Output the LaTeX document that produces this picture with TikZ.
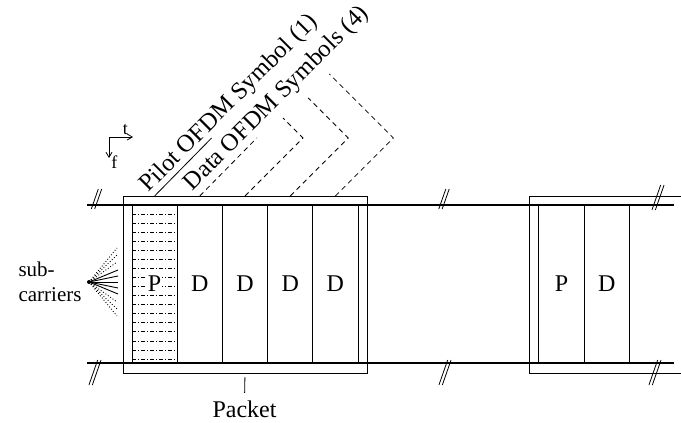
\documentclass[tikz,border=0pt]{standalone}
\usepackage{fontspec}
\setmainfont{Liberation Serif}
\usetikzlibrary{arrows.meta,positioning,calc}

\begin{document}
\begin{tikzpicture}[
  x=1pt,y=-1pt,line width=1pt,
  slot/.style={draw,minimum width=45.2pt,minimum height=158pt,inner sep=0pt,
               outer sep=0pt,font=\fontsize{24}{24}\selectfont},
  frame/.style={draw,minimum height=177pt,inner sep=0pt,outer sep=0pt},
  rail/.style={line width=1.1pt},
  leader/.style={line width=0.8pt,dash pattern=on 5pt off 4pt},
  hatch/.style={line width=0.6pt,dash pattern=on 4pt off 2pt on 1pt off 2pt},
  brk/.style={line width=0.8pt},
  axis/.style={-{Straight Barb[length=5pt,width=6pt]},line width=0.8pt},
  lbl/.style={font=\fontsize{24}{27}\selectfont,inner sep=0pt},
  slanted/.style={font=\fontsize{24.5}{27}\selectfont,inner sep=0pt,
                  rotate=45,anchor=base west},
  small/.style={font=\fontsize{18}{18}\selectfont,inner sep=1pt}
]
\useasboundingbox (0,0) rectangle (681,423);

% rails of the frequency band
\coordinate (railNW) at (87,205);
\coordinate (railNE) at (674,205);
\coordinate (railSW) at (87,363);
\coordinate (railSE) at (674,363);
\draw[rail] (railNW) -- (railNE);
\draw[rail] (railSW) -- (railSE);

% first packet
\node[frame,minimum width=244pt] (pkt1) at (245,284.5) {};
\node[slot] (p1) at (154.6,284) {};
\node[slot,right=0pt of p1] (d1) {D};
\node[slot,right=0pt of d1] (d2) {D};
\node[slot,right=0pt of d2] (d3) {D};
\node[slot,right=0pt of d3] (d4) {D};
\foreach \k [evaluate=\k as \y using 214+9.06*\k] in {0,...,16}
  \draw[hatch] (p1.west |- 0,\y) -- (p1.east |- 0,\y);
\node[lbl,fill=white,inner sep=0.5pt] at (p1) {P};

% second packet, cut by the right margin
\coordinate (pkt2NE) at (681,196);
\coordinate (pkt2SE) at (681,373);
\draw (pkt2NE) -- (529,196) -- (529,373) -- (pkt2SE);
\node[slot] (p2) at (561.5,284) {P};
\node[slot,right=0pt of p2] (d5) {D};

% breaks
\foreach \x/\y/\h in {96.5/199/10,444/199/10,658/197.5/12.5,
                      95/372.5/12.5,445/372.5/12.5,655/372.5/12.5}
  \foreach \dx in {-1.7,1.7}
    \draw[brk] (\x+\dx-0.35*\h,\y+\h) -- (\x+\dx+0.35*\h,\y-\h);

% subcarriers
\coordinate (fan) at (89,282);
\foreach \y in {270,276,282,288,294}
  \draw[line width=0.9pt] (fan) -- (118,\y);
\foreach \y in {248,255,262,302,309,316}
  \draw[line width=0.9pt,dotted] (fan) -- (117,\y);
\fill (fan) circle (2);
\node[lbl,font=\fontsize{21}{25}\selectfont,align=left,left=7pt of fan] (subc) {sub-\\carriers};

% packet label
\node[lbl,anchor=base] (pktlbl) at (244.5,417) {Packet};
\draw[line width=0.8pt,shorten <=4pt,shorten >=7pt] (pkt1.south) -- (pktlbl.north);

% time / frequency axes
\coordinate (tf) at (109,137);
\coordinate[right=24pt of tf] (tend);
\coordinate[below=21pt of tf] (fend);
\draw[axis] (tf) -- (tend) node[small,pos=0.68,above=1pt] {t};
\draw[axis] (tf) -- (fend) node[small,anchor=north west,xshift=1pt,yshift=4pt] {f};

% symbol labels
\node[slanted] (pilotlbl) at (148.5,193) {Pilot OFDM Symbol (1)};
\node[slanted] (datalbl) at (192.5,191.5) {Data OFDM Symbols (4)};
\draw[line width=0.8pt] (p1 |- pkt1.north) -- ++(57,-58);
\draw[leader] (d1 |- pkt1.north) -- ++(57,-58);
\foreach \i/\back in {2/20,3/40,4/64}
  \draw[leader] (d\i |- pkt1.north) -- ++(58,-58) -- ++(-\back,-\back);
\end{tikzpicture}
\end{document}
